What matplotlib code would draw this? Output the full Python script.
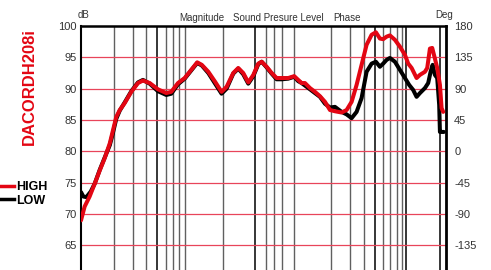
import numpy as np
import matplotlib.pyplot as plt
from matplotlib.lines import Line2D

plt.rcParams['font.family'] = ['Liberation Sans', 'DejaVu Sans']
plt.rcParams['axes.unicode_minus'] = False

# HIGH curve (red), frequency in Hz / level in dB
freq_high = [10, 10.8, 12.0, 13.4, 14.9, 16.5, 18.4, 19.7, 21.1, 22.7, 25.2, 29.0,
             33.4, 37.1, 42.8, 51.0, 60.8, 67.6, 77.9, 89.8, 103, 117, 129, 148,
             171, 196, 218, 251, 279, 310, 345, 384, 426, 458, 509, 566, 629, 700,
             804, 912, 993, 1067, 1145, 1274, 1415, 1574, 1750, 1945, 2161, 2490,
             2767, 3075, 3417, 3798, 4223, 4697, 5141, 5597, 5999, 6451, 6918, 7691,
             8551, 9506, 10190, 10960, 12170, 13060, 14520, 15240, 16140, 16940,
             17940, 18830, 19950, 20660, 21380]
db_high = [69.0, 71.2, 72.8, 74.9, 77.0, 78.9, 81.3, 83.4, 85.5, 86.6, 87.7, 89.5,
           90.9, 91.3, 90.9, 89.9, 89.3, 89.5, 90.9, 91.7, 93.0, 94.2, 93.8, 92.7,
           91.1, 89.5, 90.3, 92.5, 93.3, 92.5, 91.0, 92.2, 94.0, 94.3, 93.5, 92.5,
           91.7, 91.7, 91.7, 92.0, 91.4, 90.9, 90.9, 90.1, 89.5, 88.8, 87.9, 86.6,
           86.4, 86.2, 86.6, 87.9, 90.6, 93.8, 97.0, 98.6, 99.0, 98.0, 97.9, 98.3,
           98.5, 97.8, 96.7, 95.4, 94.0, 93.3, 91.7, 92.2, 92.7, 93.3, 96.4, 96.5,
           94.8, 93.3, 90.6, 86.9, 86.3]

# LOW curve (black)
freq_low = [10, 10.5, 11.2, 12.3, 13.4, 14.9, 16.5, 18.4, 19.7, 21.1, 22.7, 25.2,
            29.0, 33.4, 37.1, 42.8, 51.0, 60.8, 67.6, 77.9, 89.8, 103, 117, 129,
            148, 171, 196, 218, 251, 279, 310, 345, 384, 426, 458, 509, 566, 629,
            700, 804, 912, 993, 1067, 1230, 1415, 1574, 1750, 1945, 2161, 2490,
            2767, 3075, 3417, 3798, 4223, 4697, 5141, 5597, 5999, 6451, 6918, 7691,
            8551, 9506, 10400, 11320, 12170, 13060, 14520, 15560, 16380, 17090,
            17940, 18830, 19640, 19950, 20660, 21690]
db_low = [73.5, 72.8, 72.7, 73.6, 74.9, 77.1, 79.0, 81.0, 83.0, 85.2, 86.5, 87.8,
          89.6, 91.0, 91.4, 90.8, 89.6, 89.0, 89.2, 90.7, 91.6, 92.9, 94.1, 93.7,
          92.5, 90.8, 89.2, 90.0, 92.4, 93.2, 92.3, 90.8, 92.0, 93.9, 94.3, 93.4,
          92.4, 91.5, 91.5, 91.6, 91.9, 91.2, 90.9, 90.1, 89.3, 88.7, 87.6, 87.0,
          87.1, 86.3, 85.9, 85.3, 86.3, 88.5, 92.7, 94.0, 94.3, 93.5, 94.0, 94.6,
          94.9, 94.3, 93.0, 91.7, 90.6, 89.8, 88.7, 89.3, 90.1, 90.9, 92.7, 93.8,
          92.2, 91.7, 87.4, 83.1, 83.1, 83.1]

# vertical grid lines as drawn on the chart (the dark ones are listed separately)
grid_gray = [20, 30, 40, 60, 70, 80, 90, 200, 500, 600, 700, 900,
             2000, 3000, 4000, 6000, 7000, 8000, 9000]
grid_dark = [50, 400, 5000, 9700, 20000]

db_ticks = [100, 95, 90, 85, 80, 75, 70, 65]
deg_ticks = [180, 135, 90, 45, 0, -45, -90, -135]

red = '#e30613'
grid_red = '#e8455a'
txt = '#333333'

fig = plt.figure(figsize=(4.91, 2.70), dpi=100)
ax = fig.add_axes([0.165, -0.025, 0.743, 0.9287])

ax.set_xscale('log')
ax.set_xlim(10, 22600)
ax.set_ylim(60, 100)

for f in grid_gray:
    ax.axvline(f, color='#606060', lw=1.0, zorder=1)
for f in grid_dark:
    ax.axvline(f, color='#000000', lw=1.1, zorder=1)
for d in db_ticks[1:]:
    ax.axhline(d, color=grid_red, lw=0.9, zorder=1)

ax.plot(freq_low, db_low, color='black', lw=2.9, solid_capstyle='round',
        solid_joinstyle='round', zorder=3, label='LOW')
ax.plot(freq_high, db_high, color=red, lw=2.9, solid_capstyle='round',
        solid_joinstyle='round', zorder=4, label='HIGH')

ax.set_yticks(db_ticks)
ax.set_xticks([])
ax.xaxis.set_minor_locator(plt.NullLocator())
ax.tick_params(axis='y', length=0, pad=3, labelsize=8, labelcolor=txt)

ax.spines['top'].set_linewidth(1.8)
ax.spines['left'].set_linewidth(1.5)
ax.spines['right'].set_linewidth(2.0)
ax.spines['bottom'].set_visible(False)

ax2 = ax.twinx()
ax2.set_ylim(-180, 180)
ax2.set_yticks(deg_ticks)
ax2.tick_params(axis='y', length=0, pad=6, labelsize=8, labelcolor=txt)
for s in ax2.spines.values():
    s.set_visible(False)

fig.text(83 / 491, 1 - 15 / 270, 'dB', ha='center', va='center', fontsize=7, color=txt)
fig.text(444 / 491, 1 - 15 / 270, 'Deg', ha='center', va='center', fontsize=7, color=txt)
fig.text(179 / 491, 1 - 18 / 270, 'Magnitude', ha='left', va='center', fontsize=7, color=txt)
fig.text(233 / 491, 1 - 18 / 270, 'Sound Presure Level', ha='left', va='center', fontsize=7, color=txt)
fig.text(333 / 491, 1 - 18 / 270, 'Phase', ha='left', va='center', fontsize=7, color=txt)

fig.text(29 / 491, 1 - 87 / 270, 'DACORDH208i', rotation=90, ha='center', va='center',
         fontsize=12, fontweight='bold', color=red)

handles = [Line2D([], [], color=red, lw=2.5), Line2D([], [], color='black', lw=2.5)]
fig.legend(handles, ['HIGH', 'LOW'], loc='upper left', bbox_to_anchor=(-0.005, 0.33),
           frameon=False, prop={'weight': 'bold', 'size': 9}, handlelength=1.3,
           handletextpad=0.15, labelspacing=0.15, borderpad=0, borderaxespad=0)

fig.savefig('out.png', dpi=100)
